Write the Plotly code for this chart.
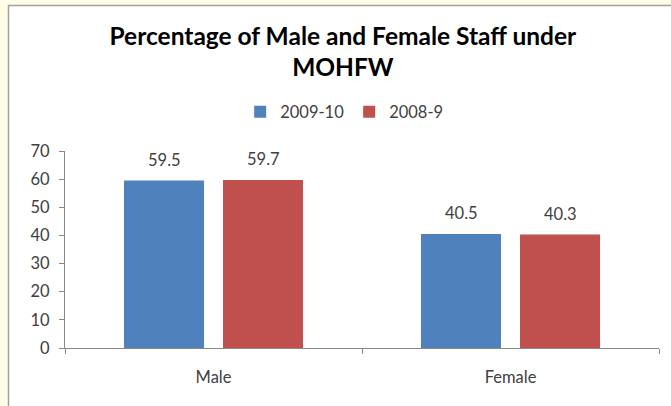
import plotly.graph_objects as go

categories = ["Male", "Female"]
series_names = ["2009-10", "2008-9"]
values_2009_10 = [59.5, 40.5]
values_2008_9 = [59.7, 40.3]
colors = ["#4F81BD", "#C0504D"]

FONT = "Lato"
TXT = "#404040"

fig = go.Figure()
for name, vals, col in zip(series_names, [values_2009_10, values_2008_9], colors):
    fig.add_trace(go.Bar(x=categories, y=vals, name=name, marker=dict(color=col, line=dict(width=0))))

annotations = []
for vals, shift in zip([values_2009_10, values_2008_9], [-49.5, 49.5]):
    for c, v in zip(categories, vals):
        annotations.append(dict(x=c, y=v, xref="x", yref="y", text=f"{v}", showarrow=False,
                                xshift=shift, yshift=21, yanchor="middle",
                                font=dict(family=FONT, size=16.5, color=TXT)))

fig.update_layout(
    width=671, height=406,
    margin=dict(l=65, r=12, t=151, b=58),
    paper_bgcolor="#FFFDE8",
    plot_bgcolor="rgba(0,0,0,0)",
    barmode="group", bargap=0.333, bargroupgap=0.192,
    title=dict(text="<b>Percentage of Male and Female Staff under<br>MOHFW</b>",
               x=0.511, xanchor="center", y=1 - 44.5 / 406, yanchor="middle",
               yref="container", font=dict(family=FONT, size=24.5, color="#000000")),
    legend=dict(orientation="h", x=0.470, xanchor="center", y=1.198, yanchor="middle",
                font=dict(family=FONT, size=16.5, color=TXT), bgcolor="rgba(0,0,0,0)",
                traceorder="normal"),
    shapes=[dict(type="rect", xref="paper", yref="paper", x0=-0.0951, x1=1.2, y0=-0.5, y1=1.7386,
                 fillcolor="white", line=dict(color="#A0A0A0", width=1.5), layer="below")],
    annotations=annotations,
    xaxis=dict(showline=True, linecolor="#888888", linewidth=1, ticks="outside", tickson="boundaries",
               ticklen=5, tickcolor="#888888", tickfont=dict(family=FONT, size=16.5, color=TXT),
               showgrid=False, ticklabelstandoff=14),
    yaxis=dict(range=[0, 70], dtick=10, showline=True, linecolor="#888888", linewidth=1,
               ticks="outside", ticklen=5, tickcolor="#888888", showgrid=False, zeroline=False,
               tickfont=dict(family=FONT, size=16.5, color=TXT), ticklabelstandoff=6),
)

fig.write_html("out.html", config={"displayModeBar": False},
               post_script="document.body.style.margin='0';document.body.style.background='#FFFDE8';")
